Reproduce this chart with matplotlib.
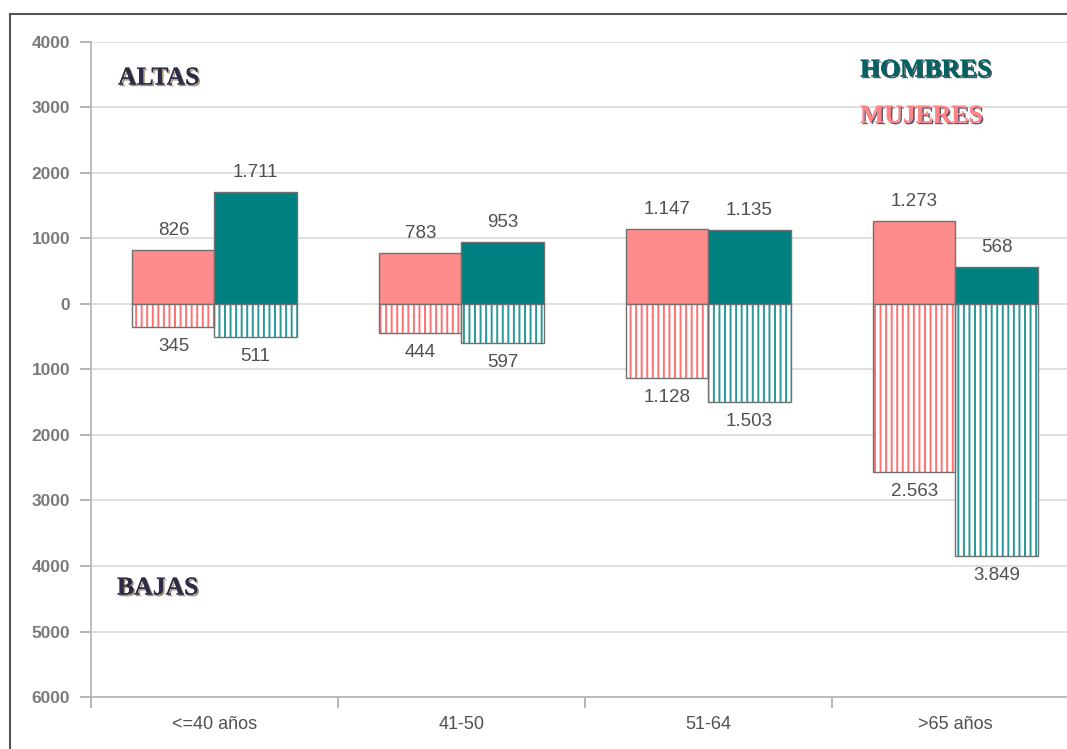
import numpy as np
import matplotlib
matplotlib.use("Agg")
import matplotlib.pyplot as plt
import matplotlib.patheffects as pe
from matplotlib.lines import Line2D

# datos
categorias = ["<=40 años", "41-50", "51-64", ">65 años"]
altas_mujeres = [826, 783, 1147, 1273]
altas_hombres = [1711, 953, 1135, 568]
bajas_mujeres = [345, 444, 1128, 2563]
bajas_hombres = [511, 597, 1503, 3849]
y_ticks = [-6000, -5000, -4000, -3000, -2000, -1000, 0, 1000, 2000, 3000, 4000]

rosa = "#ff8c8c"
rosa_linea = "#ff7070"
verde = "#008080"
verde_linea = "#289898"
borde = "#707070"

plt.rcParams["hatch.linewidth"] = 1.4


def fmt(v):
    return f"{v:,}".replace(",", ".")


fig = plt.figure(figsize=(10.67, 7.49), dpi=100)
ax = fig.add_axes([91 / 1067, 1 - 697 / 749, (1079 - 91) / 1067, (697 - 42) / 749])

x = np.arange(len(categorias))
w = 0.332

# altas (positivas)
ax.bar(x - w, altas_mujeres, w, align="edge", color=rosa, edgecolor=borde, lw=1, zorder=3)
ax.bar(x, altas_hombres, w, align="edge", color=verde, edgecolor=borde, lw=1, zorder=3)

# bajas (negativas, rayadas)
neg_m = [-v for v in bajas_mujeres]
neg_h = [-v for v in bajas_hombres]
ax.bar(x - w, neg_m, w, align="edge", color="white", edgecolor=rosa_linea, hatch="|||", lw=0, zorder=3)
ax.bar(x, neg_h, w, align="edge", color="white", edgecolor=verde_linea, hatch="|||", lw=0, zorder=3)
ax.bar(x - w, neg_m, w, align="edge", fill=False, edgecolor=borde, lw=1, zorder=4)
ax.bar(x, neg_h, w, align="edge", fill=False, edgecolor=borde, lw=1, zorder=4)

lab = dict(ha="center", va="center", fontsize=13.5, color="#505050", family="Liberation Sans",
           textcoords="offset points", zorder=5)
for i in range(len(categorias)):
    ax.annotate(fmt(altas_mujeres[i]), (x[i] - w / 2, altas_mujeres[i]), xytext=(0, 14), **lab)
    ax.annotate(fmt(altas_hombres[i]), (x[i] + w / 2, altas_hombres[i]), xytext=(0, 14), **lab)
    ax.annotate(fmt(bajas_mujeres[i]), (x[i] - w / 2, -bajas_mujeres[i]), xytext=(0, -14), **lab)
    ax.annotate(fmt(bajas_hombres[i]), (x[i] + w / 2, -bajas_hombres[i]), xytext=(0, -14), **lab)

ax.set_xlim(-0.5, len(categorias) - 0.5)
ax.set_ylim(-6000, 4000)
ax.set_yticks(y_ticks)
ax.set_yticklabels([str(abs(t)) for t in y_ticks], fontsize=12.5, fontweight="bold",
                   color="#7a7a7a", family="Liberation Sans")
ax.set_xticks(x)
ax.set_xticklabels(categorias, fontsize=13, color="#505050", family="Liberation Sans")
ax.set_xticks(np.arange(-0.5, len(categorias), 1.0), minor=True)
ax.tick_params(axis="x", which="major", length=0, pad=14)
ax.tick_params(axis="x", which="minor", length=8, color="#b0b0b0", width=1.3)
ax.tick_params(axis="y", length=8, color="#b0b0b0", width=1.3, pad=7)

ax.grid(axis="y", color="#dcdcdc", lw=1.3, zorder=0)
for s in ["top", "right"]:
    ax.spines[s].set_visible(False)
for s in ["left", "bottom"]:
    ax.spines[s].set_color("#b8b8b8")
    ax.spines[s].set_linewidth(1.3)

sombra = [pe.withSimplePatchShadow(offset=(1.2, -1.2), shadow_rgbFace="#8a7a50", alpha=0.8), pe.Normal()]
tfont = dict(family="Liberation Serif", fontweight="bold", fontsize=18.5, transform=fig.transFigure,
             va="center", ha="left")
fig.text(118 / 1067, 1 - 78 / 749, "ALTAS", color="#2e2a48", path_effects=sombra, **tfont)
fig.text(117 / 1067, 1 - 588 / 749, "BAJAS", color="#2e2a48", path_effects=sombra, **tfont)
fig.text(860 / 1067, 1 - 70 / 749, "HOMBRES", color="#006262",
         path_effects=[pe.withSimplePatchShadow(offset=(1.2, -1.2), shadow_rgbFace="#1a2a40", alpha=0.8), pe.Normal()],
         **tfont)
fig.text(860 / 1067, 1 - 116 / 749, "MUJERES", color="#ff8585",
         path_effects=[pe.withSimplePatchShadow(offset=(1.2, -1.2), shadow_rgbFace="#303050", alpha=0.8), pe.Normal()],
         **tfont)

# marco exterior
fig.add_artist(Line2D([10 / 1067, 10 / 1067], [0, 1 - 14 / 749], color="#555555", lw=1.5, transform=fig.transFigure))
fig.add_artist(Line2D([10 / 1067, 1], [1 - 14 / 749, 1 - 14 / 749], color="#555555", lw=1.5, transform=fig.transFigure))

fig.savefig("out.png", dpi=100)
